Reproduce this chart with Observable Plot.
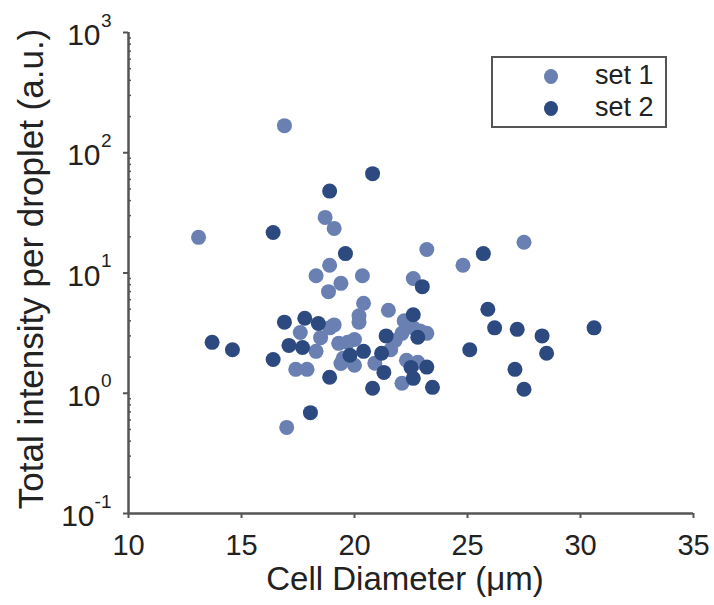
<!DOCTYPE html>
<html>
<head>
<meta charset="utf-8">
<script src="https://cdn.jsdelivr.net/npm/d3@7"></script>
<script src="https://cdn.jsdelivr.net/npm/@observablehq/plot@0.6"></script>
<style>
  body { margin: 0; background: #fff; }
  #wrap { position: relative; width: 714px; height: 605px; font-family: "Liberation Sans", Arial, sans-serif; }
  #legend { position: absolute; left: 491px; top: 56px; width: 172px; height: 68px; border: 2.5px solid #555; background: #fff; }
  .row { position: absolute; left: 0; height: 30px; width: 100%; }
  .dot { position: absolute; left: 51px; top: 8px; width: 14px; height: 15px; border-radius: 50%; }
  .lab { position: absolute; left: 102px; top: -2px; font-size: 27px; line-height: 32px; color: #222; }
</style>
</head>
<body>
<div id="wrap"></div>
<script>
// ---- data ----
const set1X = [16.9, 13.1, 18.7, 19.1, 18.3, 18.9, 19.4, 20.35, 18.85, 23.2, 24.8, 27.5, 20.4, 21.5, 20.2, 20.2, 22.6, 22.2, 22.1, 23.2, 21.8, 22.9, 22.6, 19.1, 18.9, 17.6, 18.5, 18.3, 17.4, 17.9, 17.0, 19.7, 20.0, 19.3, 19.4, 20.0, 20.9, 21.6, 22.8, 22.3, 22.1, 19.5];
const set1Y = [168, 19.8, 29, 23.5, 9.5, 11.6, 8.2, 9.5, 7.0, 15.7, 11.6, 18, 5.6, 4.9, 4.4, 3.9, 9.0, 4.0, 3.15, 3.15, 2.75, 3.3, 3.5, 3.7, 3.5, 3.2, 2.9, 2.23, 1.58, 1.58, 0.52, 2.65, 2.8, 2.6, 1.77, 1.71, 1.78, 2.3, 1.81, 1.88, 1.21, 1.95];
const set2X = [18.9, 20.8, 16.4, 19.6, 25.7, 25.9, 26.2, 27.2, 28.3, 28.5, 30.6, 25.1, 27.1, 27.5, 13.7, 14.6, 16.4, 16.9, 17.8, 18.4, 17.1, 17.7, 18.05, 18.9, 19.8, 20.4, 21.4, 21.2, 21.3, 20.8, 22.6, 22.8, 22.5, 22.6, 23.2, 23.45, 23.0];
const set2Y = [48, 67, 21.7, 14.5, 14.5, 5.0, 3.5, 3.4, 3.0, 2.15, 3.5, 2.3, 1.58, 1.08, 2.65, 2.3, 1.91, 3.9, 4.2, 3.8, 2.5, 2.4, 0.69, 1.36, 2.07, 2.23, 3.0, 2.15, 1.49, 1.1, 4.5, 2.92, 1.64, 1.33, 1.65, 1.12, 7.7];
const seriesNames = ["set 1", "set 2"];
const seriesColors = ["#6a80b2", "#2d4a80"];
const xTicks = [10, 15, 20, 25, 30, 35];
const yMajor = [0.1, 1, 10, 100, 1000];
const yExp = ["-1", "0", "1", "2", "3"];
const yMinor = [-1, 0, 1, 2].flatMap(k => [2,3,4,5,6,7,8,9].map(m => m * Math.pow(10, k)));
const xTitle = "Cell Diameter (\u03bcm)";
const yTitle = "Total intensity per droplet (a.u.)";

const set1 = set1X.map((x, i) => ({x, y: set1Y[i]}));
const set2 = set2X.map((x, i) => ({x, y: set2Y[i]}));
const yLab = yMajor.map((v, i) => ({v, e: yExp[i]}));
const axisCol = "#555";
const font = "Liberation Sans, Arial, sans-serif";

const chart = Plot.plot({
  width: 714, height: 605,
  marginLeft: 128, marginRight: 21, marginTop: 32, marginBottom: 92,
  style: {fontFamily: font, background: "#fff", color: "#222"},
  x: {domain: [10, 35], axis: null},
  y: {type: "log", domain: [0.1, 1000], axis: null},
  marks: [
    Plot.tickY(yMinor, {y: d => d, frameAnchor: "left", stroke: axisCol, strokeWidth: 1.5, insetLeft: 0, insetRight: 562}),
    Plot.axisY({ticks: yMajor, tickSize: 5, text: null, label: null, stroke: axisCol, strokeWidth: 2}),
    Plot.axisX({ticks: xTicks, tickSize: 5, tickPadding: 16, label: null, stroke: axisCol, strokeWidth: 2, fontSize: 29, fill: "#222", tickFormat: d => String(d)}),
    Plot.ruleX([10], {stroke: axisCol, strokeWidth: 2.5}),
    Plot.ruleY([0.1], {stroke: axisCol, strokeWidth: 2.5}),
    Plot.text(yLab.filter(d => d.e.length === 1), {y: "v", text: () => "10", frameAnchor: "left", dx: -28, dy: 3, textAnchor: "end", fontSize: 30, fill: "#222"}),
    Plot.text(yLab.filter(d => d.e.length > 1), {y: "v", text: () => "10", frameAnchor: "left", dx: -34, dy: 3, textAnchor: "end", fontSize: 30, fill: "#222"}),
    Plot.text(yLab, {y: "v", text: "e", frameAnchor: "left", dx: -17, dy: -12, textAnchor: "end", fontSize: 19, fill: "#222"}),
    Plot.text([xTitle], {text: d => d, frameAnchor: "bottom", dx: -6, dy: 76, fontSize: 33, fill: "#222"}),
    Plot.text([yTitle], {text: d => d, frameAnchor: "left", textAnchor: "middle", dx: -97, dy: -4, rotate: -90, fontSize: 35, fill: "#222"}),
    Plot.dot(set1, {x: "x", y: "y", r: 7.5, fill: seriesColors[0]}),
    Plot.dot(set2, {x: "x", y: "y", r: 7.5, fill: seriesColors[1]})
  ]
});
const wrap = document.getElementById("wrap");
wrap.appendChild(chart);

const legend = document.createElement("div");
legend.id = "legend";
seriesNames.forEach((name, i) => {
  const row = document.createElement("div");
  row.className = "row";
  row.style.top = (3 + i * 32) + "px";
  const dot = document.createElement("div");
  dot.className = "dot";
  dot.style.background = seriesColors[i];
  const lab = document.createElement("div");
  lab.className = "lab";
  lab.textContent = name;
  row.appendChild(dot); row.appendChild(lab);
  legend.appendChild(row);
});
wrap.appendChild(legend);
</script>
</body>
</html>
